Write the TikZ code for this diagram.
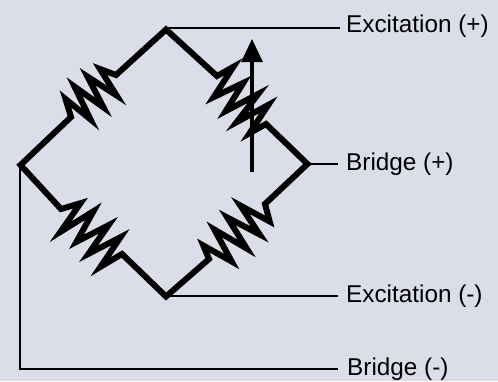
\documentclass[tikz,border=0pt]{standalone}
\usepackage{fontspec}
\setmainfont{Liberation Sans}
\definecolor{bgc}{RGB}{219,221,232}
\usetikzlibrary{arrows.meta}
\tikzset{
 arm/.style={line width=6pt,line join=miter,miter limit=20},
 lead/.style={line width=2pt},
 lab/.style={anchor=base west,inner sep=0pt,font=\fontsize{24.3}{26}\selectfont},
 adj/.style={line width=3.3pt,-{Triangle[length=23pt,width=21pt]}},
}
\begin{document}
\begin{tikzpicture}[x=1pt,y=-1pt]
\fill[bgc] (0,0) rectangle (498,381);
\useasboundingbox (0,0) rectangle (498,381);
\coordinate (T) at (166,29.5);
\coordinate (L) at (20.5,165);
\coordinate (R) at (307.5,164);
\coordinate (B) at (166,296.5);
\coordinate (C) at (20,369);
\coordinate (te) at (340,28);
\coordinate (re) at (338,164);
\coordinate (be) at (338,296);
\coordinate (ce) at (338,369);
\coordinate (as) at (252,172);
\coordinate (ae) at (252,39);
\node[lab] (e1) at (346,32) {Excitation (+)};
\node[lab] (b1) at (346,170) {Bridge (+)};
\node[lab] (e2) at (346,302) {Excitation (-)};
\node[lab] (b2) at (347,375) {Bridge (-)};
\draw[lead] (166,28) -- (te);
\draw[lead] (R) -- (re);
\draw[lead] (166,296) -- (be);
\draw[lead] (20,165) -- (C) -- (ce);
\draw[arm] (L) -- (71,117) -- (65.5,99) -- (90.5,119.4) -- (74.5,86.6) -- (103.5,107.4) -- (87.5,76.6) -- (116.5,95.4) -- (100,69) -- (116,75) -- (T)
 -- (217,76) -- (233.3,66.9) -- (213.7,97.1) -- (243.3,82.9) -- (225.7,111.1) -- (258.3,93.9) -- (236.7,122.1) -- (268.3,104.9) -- (249.7,133.1) -- (266,124) -- (R)
 -- (265,204) -- (269.7,221.5) -- (240.3,205.5) -- (259.7,234.5) -- (227.3,217.5) -- (246.7,248.5) -- (214.3,229.5) -- (231.7,261.5) -- (203.3,245.5) -- (209,259) -- (B)
 -- (122,254) -- (100.5,266.8) -- (120.5,237.2) -- (88.5,253.8) -- (108.5,225.2) -- (76.5,241.8) -- (93.5,211.2) -- (60.5,231.8) -- (80.5,203.2) -- (61,209) -- cycle;
\draw[adj] (as) -- (ae);
\end{tikzpicture}
\end{document}
